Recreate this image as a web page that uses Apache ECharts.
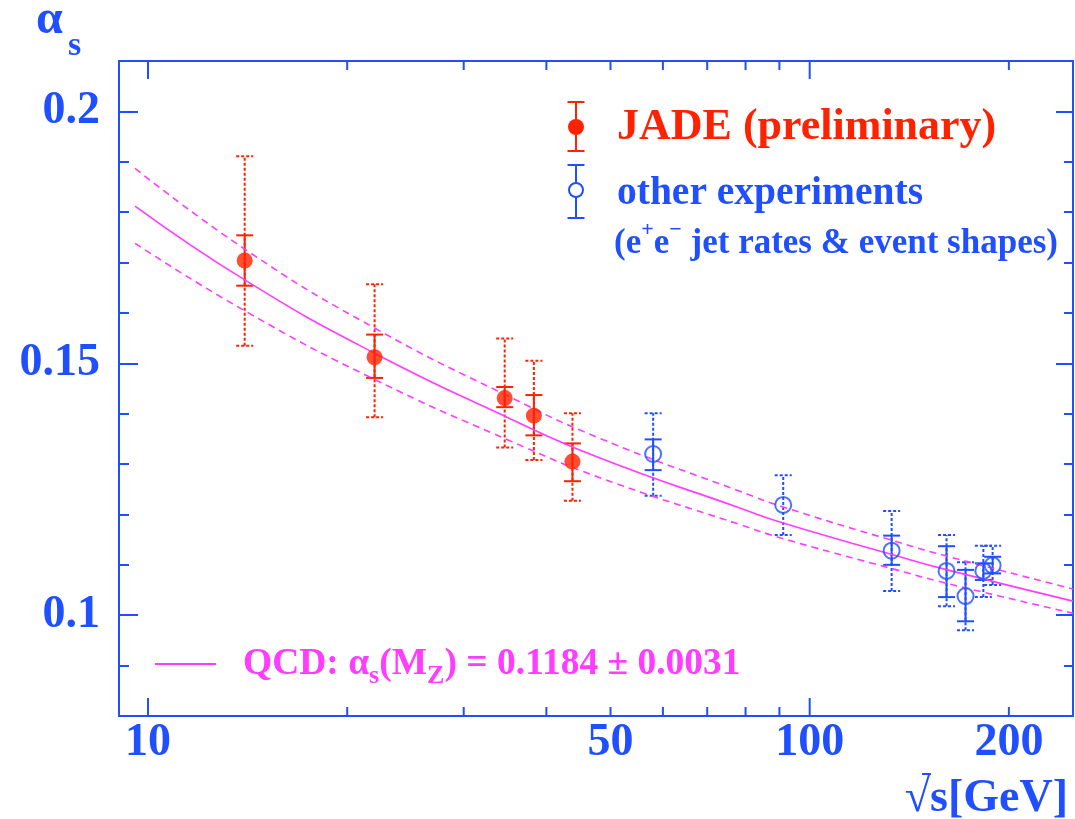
<!DOCTYPE html>
<html>
<head>
<meta charset="utf-8">
<script src="https://cdn.jsdelivr.net/npm/echarts@6/dist/echarts.min.js"></script>
<style>
  html, body { margin: 0; padding: 0; background: #fff; }
  #chart { width: 1075px; height: 819px; }
</style>
</head>
<body>
<div id="chart"></div>
<script>
const BLUE = '#1f4fff';
const RED = '#ff2200';
const MAGENTA = '#ff3cff';
const FONT = '"Liberation Serif", "DejaVu Serif", serif';

// JADE points (sqrt(s) in GeV)
const jadeE = [14, 22, 34.6, 38.3, 43.8];
const jadeAlpha = [0.1704, 0.1512, 0.1431, 0.1396, 0.1305];
const jadeStatLo = [0.1654, 0.1471, 0.1413, 0.1357, 0.1266];
const jadeStatHi = [0.1754, 0.1557, 0.1453, 0.1437, 0.1341];
const jadeTotLo = [0.1535, 0.1393, 0.1333, 0.1308, 0.1227];
const jadeTotHi = [0.1911, 0.1657, 0.1549, 0.1505, 0.1401];

// other experiments
const otherE = [58, 91.2, 133, 161, 172, 183, 189];
const otherAlpha = [0.1320, 0.1219, 0.1128, 0.1088, 0.1038, 0.1088, 0.1099];
const otherStatLo = [0.1288, 0.1219, 0.1100, 0.1036, 0.0988, 0.1070, 0.1083];
const otherStatHi = [0.1349, 0.1219, 0.1158, 0.1137, 0.1090, 0.1103, 0.1116];
const otherTotLo = [0.1237, 0.1159, 0.1048, 0.1018, 0.0970, 0.1036, 0.1060];
const otherTotHi = [0.1401, 0.1278, 0.1207, 0.1159, 0.1105, 0.1138, 0.1138];

// QCD curve and its band
const qcdE = [9.56, 14.1, 22, 35, 48.2, 78.4, 91.2, 133.6, 161.4, 250];
const qcdMid = [0.1812, 0.1663, 0.1520, 0.1392, 0.1312, 0.1213, 0.1183, 0.1120, 0.1090, 0.1028];
const qcdUp = [0.1887, 0.1724, 0.1570, 0.1435, 0.1351, 0.1246, 0.1215, 0.1148, 0.1117, 0.1052];
const qcdLo = [0.1738, 0.1602, 0.1468, 0.1348, 0.1273, 0.1180, 0.1152, 0.1092, 0.1063, 0.1004];

const xTicks = [10, 20, 30, 40, 50, 60, 70, 80, 90, 100, 200];
const xMajor = [10, 100];
const xLabels = [10, 50, 100, 200];
const yLabels = [0.1, 0.15, 0.2];
const Y_MIN = 0.08, Y_MAX = 0.21;

const pairs = (xs, ys) => xs.map((x, i) => [x, ys[i]]);
const triples = (xs, lo, hi) => xs.map((x, i) => [x, lo[i], hi[i]]);

function errBar(color, dashed) {
  return function (params, api) {
    const x = api.value(0);
    const lo = api.coord([x, api.value(1)]);
    const hi = api.coord([x, api.value(2)]);
    if (Math.abs(lo[1] - hi[1]) < 1) return {type: 'group', children: []};
    const w = 8.5;
    const style = {stroke: color, lineWidth: 2};
    if (dashed) style.lineDash = [3, 2];
    return {
      type: 'group',
      children: [
        {type: 'line', shape: {x1: lo[0], y1: lo[1], x2: hi[0], y2: hi[1]}, style},
        {type: 'line', shape: {x1: lo[0] - w, y1: lo[1], x2: lo[0] + w, y2: lo[1]}, style},
        {type: 'line', shape: {x1: hi[0] - w, y1: hi[1], x2: hi[0] + w, y2: hi[1]}, style}
      ]
    };
  };
}

function renderXTicks(params, api) {
  const v = api.value(0);
  const b = api.coord([v, Y_MIN]);
  const t = api.coord([v, Y_MAX]);
  const len = xMajor.includes(v) ? 18 : 9;
  const style = {stroke: BLUE, lineWidth: 2};
  return {
    type: 'group',
    children: [
      {type: 'line', shape: {x1: b[0], y1: b[1], x2: b[0], y2: b[1] - len}, style},
      {type: 'line', shape: {x1: t[0], y1: t[1], x2: t[0], y2: t[1] + len}, style}
    ]
  };
}

function renderXLabels(params, api) {
  const v = api.value(0);
  const p = api.coord([v, Y_MIN]);
  return {
    type: 'text',
    x: p[0],
    y: p[1] + 27,
    style: {
      text: String(v), fill: BLUE, font: 'bold 46px ' + FONT,
      align: 'center', verticalAlign: 'middle', textAlign: 'center', textVerticalAlign: 'middle'
    }
  };
}

const tickStyle = {color: BLUE, width: 2};
const yBase = {
  type: 'value', min: Y_MIN, max: Y_MAX,
  splitLine: {show: false}, axisLine: {show: false}
};

const chart = echarts.init(document.getElementById('chart'));
chart.setOption({
  animation: false,
  backgroundColor: '#fff',
  grid: {
    left: 119, right: 2, top: 61, bottom: 103,
    show: true, borderColor: BLUE, borderWidth: 2, backgroundColor: 'transparent'
  },
  xAxis: {
    type: 'log', logBase: 10, min: 9.04, max: 250,
    axisLine: {show: false}, axisTick: {show: false},
    axisLabel: {show: false}, splitLine: {show: false}
  },
  yAxis: [
    {
      ...yBase, position: 'left',
      axisTick: {inside: true, length: 19, customValues: yLabels, lineStyle: tickStyle},
      axisLabel: {
        customValues: yLabels, formatter: v => String(v), margin: 19,
        color: BLUE, fontSize: 46, fontWeight: 'bold', fontFamily: FONT
      }
    },
    {
      ...yBase, position: 'left', interval: 0.01,
      axisTick: {inside: true, length: 10, lineStyle: tickStyle}, axisLabel: {show: false}
    },
    {
      ...yBase, position: 'right',
      axisTick: {inside: true, length: 17, customValues: yLabels, lineStyle: tickStyle},
      axisLabel: {show: false}
    },
    {
      ...yBase, position: 'right', interval: 0.01,
      axisTick: {inside: true, length: 9, lineStyle: tickStyle}, axisLabel: {show: false}
    }
  ],
  series: [
    {
      type: 'custom', renderItem: renderXTicks, data: xTicks.map(v => [v, Y_MIN]),
      encode: {x: 0, y: 1}, silent: true, z: 5
    },
    {
      type: 'custom', renderItem: renderXLabels, data: xLabels.map(v => [v, Y_MIN]),
      encode: {x: 0, y: 1}, silent: true, z: 5
    },
    {
      type: 'line', data: pairs(qcdE, qcdUp), showSymbol: false, smooth: true,
      lineStyle: {color: MAGENTA, width: 1.6, type: [7, 5]}
    },
    {
      type: 'line', data: pairs(qcdE, qcdMid), showSymbol: false, smooth: true,
      lineStyle: {color: MAGENTA, width: 1.6}
    },
    {
      type: 'line', data: pairs(qcdE, qcdLo), showSymbol: false, smooth: true,
      lineStyle: {color: MAGENTA, width: 1.6, type: [7, 5]}
    },
    {
      type: 'custom', renderItem: errBar(RED, true), data: triples(jadeE, jadeTotLo, jadeTotHi),
      encode: {x: 0, y: [1, 2]}, z: 3
    },
    {
      type: 'custom', renderItem: errBar(RED, false), data: triples(jadeE, jadeStatLo, jadeStatHi),
      encode: {x: 0, y: [1, 2]}, z: 3
    },
    {
      type: 'custom', renderItem: errBar(BLUE, true), data: triples(otherE, otherTotLo, otherTotHi),
      encode: {x: 0, y: [1, 2]}, z: 3
    },
    {
      type: 'custom', renderItem: errBar(BLUE, false), data: triples(otherE, otherStatLo, otherStatHi),
      encode: {x: 0, y: [1, 2]}, z: 3
    },
    {
      type: 'scatter', data: pairs(jadeE, jadeAlpha), symbol: 'circle', symbolSize: 16,
      itemStyle: {color: RED}, z: 4
    },
    {
      type: 'scatter', data: pairs(otherE, otherAlpha), symbol: 'circle', symbolSize: 16,
      itemStyle: {color: 'rgba(255,255,255,0)', borderColor: BLUE, borderWidth: 2}, z: 4
    }
  ],
  graphic: [
    // y title
    {type: 'text', x: 36, y: 21, style: {text: 'α', fill: BLUE, font: 'bold 48px ' + FONT, verticalAlign: 'middle'}},
    {type: 'text', x: 68, y: 46, style: {text: 's', fill: BLUE, font: 'bold 34px ' + FONT, verticalAlign: 'middle'}},
    // x title
    {type: 'text', x: 1068, y: 799, style: {text: '√s[GeV]', fill: BLUE, font: 'bold 46px ' + FONT, align: 'right', verticalAlign: 'middle'}},
    {type: 'line', shape: {x1: 922, y1: 774, x2: 931, y2: 774}, style: {stroke: BLUE, lineWidth: 2}},
    // JADE legend entry
    {type: 'line', shape: {x1: 576, y1: 102, x2: 576, y2: 151}, style: {stroke: RED, lineWidth: 2}},
    {type: 'line', shape: {x1: 567.5, y1: 102, x2: 584.5, y2: 102}, style: {stroke: RED, lineWidth: 2}},
    {type: 'line', shape: {x1: 567.5, y1: 151, x2: 584.5, y2: 151}, style: {stroke: RED, lineWidth: 2}},
    {type: 'circle', shape: {cx: 576, cy: 127, r: 8}, style: {fill: RED}},
    {type: 'text', x: 617, y: 128, style: {text: 'JADE (preliminary)', fill: RED, font: 'bold 44px ' + FONT, verticalAlign: 'middle'}},
    // other experiments legend entry
    {type: 'line', shape: {x1: 576, y1: 165, x2: 576, y2: 218}, style: {stroke: BLUE, lineWidth: 2}},
    {type: 'line', shape: {x1: 567.5, y1: 165, x2: 584.5, y2: 165}, style: {stroke: BLUE, lineWidth: 2}},
    {type: 'line', shape: {x1: 567.5, y1: 218, x2: 584.5, y2: 218}, style: {stroke: BLUE, lineWidth: 2}},
    {type: 'circle', shape: {cx: 576, cy: 190, r: 7}, style: {fill: '#fff', stroke: BLUE, lineWidth: 2}},
    {type: 'text', x: 617, y: 194, style: {text: 'other experiments', fill: BLUE, font: 'bold 39.5px ' + FONT, verticalAlign: 'middle'}},
    {
      type: 'text', x: 614, y: 244,
      style: {
        text: '{m|(e}{sup|+}{m|e}{sup|−}{m| jet rates & event shapes)}',
        verticalAlign: 'middle',
        rich: {
          m: {fill: BLUE, fontSize: 35, fontWeight: 'bold', fontFamily: FONT, lineHeight: 50},
          sup: {fill: BLUE, fontSize: 22, fontWeight: 'bold', fontFamily: FONT, lineHeight: 50, verticalAlign: 'top'}
        }
      }
    },
    // QCD legend entry
    {type: 'line', shape: {x1: 155, y1: 664, x2: 216, y2: 664}, style: {stroke: MAGENTA, lineWidth: 2}},
    {
      type: 'text', x: 243, y: 664,
      style: {
        text: '{m|QCD: α}{sub|s}{m|(M}{sub|Z}{m|) = 0.1184 ± 0.0031}',
        verticalAlign: 'middle',
        rich: {
          m: {fill: MAGENTA, fontSize: 37.5, fontWeight: 'bold', fontFamily: FONT, lineHeight: 50},
          sub: {fill: MAGENTA, fontSize: 26, fontWeight: 'bold', fontFamily: FONT, lineHeight: 50, verticalAlign: 'bottom'}
        }
      }
    }
  ]
});
</script>
</body>
</html>
